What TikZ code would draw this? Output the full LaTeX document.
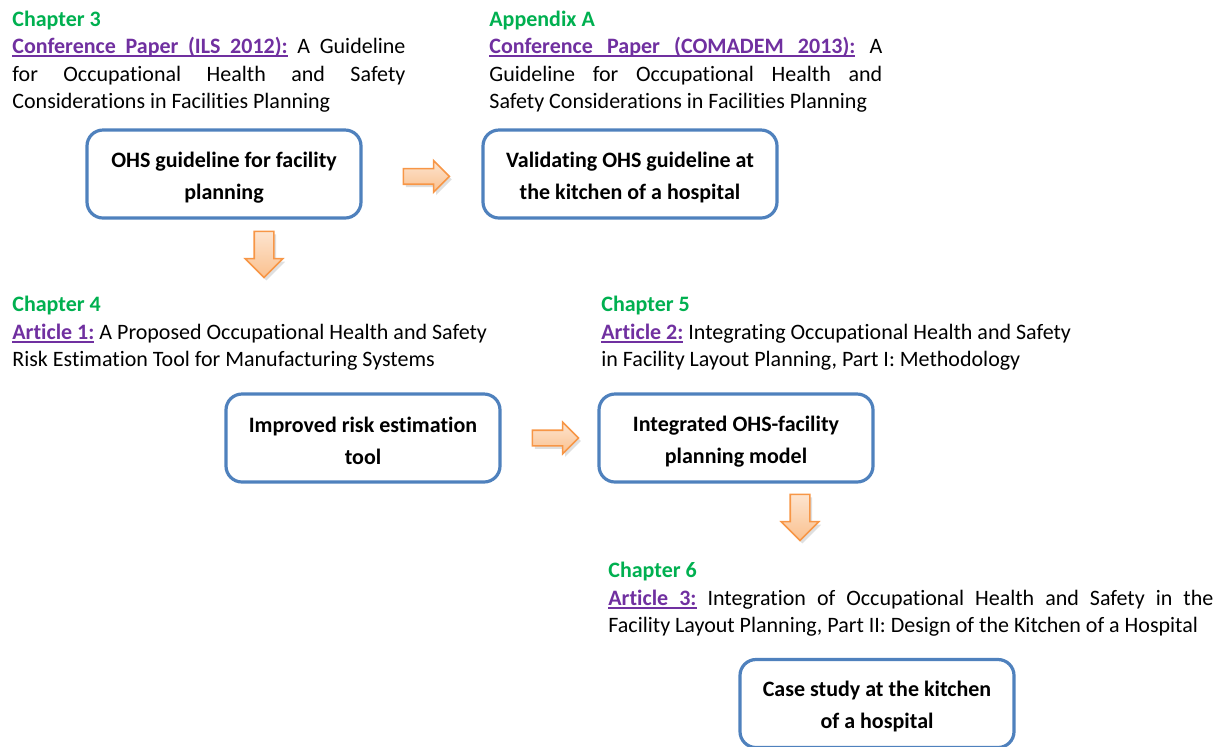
\documentclass[tikz,border=0pt]{standalone}
\usepackage{fontspec}
\setmainfont{Carlito}[Ligatures=NoCommon]
\usetikzlibrary{positioning, shapes.arrows, shadows}

\definecolor{chapgreen}{HTML}{00B050}
\definecolor{paperpurple}{HTML}{7030A0}
\definecolor{boxblue}{HTML}{4F81BD}
\definecolor{arrowline}{HTML}{F79646}
\definecolor{arrowtop}{HTML}{FDE4CF}
\definecolor{arrowbottom}{HTML}{FAC18F}

\hyphenpenalty=10000
\tolerance=10000
% underlined words, with underlined (stretchable) spaces between them
\newcommand{\ulw}[1]{\leavevmode\setbox0\hbox{#1}\rlap{\vrule height -0.9pt depth 1.7pt width \wd0}\box0}
\newcommand{\ulsp}{\leaders\hrule height -0.9pt depth 1.7pt\hskip\fontdimen2\font plus\fontdimen3\font minus\fontdimen4\font}
\def\ulsplit#1 #2\ulend{\ulw{#1}\ifx\relax#2\relax\else\ulsp\ulsplit#2\ulend\fi}
\newcommand{\chaphead}[1]{{\color{chapgreen}\bfseries #1}}
\newcommand{\paperref}[1]{{\color{paperpurple}\bfseries\ulsplit#1 \ulend}}

\begin{document}
\begin{tikzpicture}[x=0.5pt, y=-0.5pt,
  stage/.style={draw=boxblue, line width=1.6pt, rounded corners=8pt, text width=137pt,
    minimum height=44pt, inner sep=0pt, align=flush center, font=\bfseries\fontsize{11}{16}\selectfont,
    execute at begin node={\rule{0pt}{11pt}}},
  note/.style={anchor=base west, inner sep=0pt, align=justify, text width=196.5pt,
    font=\fontsize{11}{13.8}\selectfont},
  flow/.style={single arrow, draw=arrowline, line width=0.8pt, top color=arrowtop,
    bottom color=arrowbottom, single arrow head extend=4pt, minimum height=23pt,
    minimum width=15pt, inner sep=3.5pt, drop shadow={opacity=0.25, shadow xshift=1.2pt, shadow yshift=-1.5pt}},
  flowdown/.style={flow, shape border rotate=270, single arrow head extend=4.5pt, minimum width=18pt, inner sep=4.5pt}]
\useasboundingbox (0,0) rectangle (1225,746);

% texts
\node[note] (ch3) at (12,26) {\chaphead{Chapter 3}\\
  \paperref{Conference Paper (ILS 2012):} A Guideline\linebreak for Occupational Health and Safety\linebreak Considerations in Facilities Planning};
\node[note] (appA) at (489,26) {\chaphead{Appendix A}\\
  \paperref{Conference Paper (COMADEM 2013):} A\linebreak Guideline for Occupational Health and\linebreak Safety Considerations in Facilities Planning};
\node[note, align=flush left, text width=250pt] (ch4) at (12,311.5) {\chaphead{Chapter 4}\\
  \paperref{Article 1:} A Proposed Occupational Health and Safety\\
  Risk Estimation Tool for Manufacturing Systems};
\node[note, align=flush left, text width=250pt] (ch5) at (601,311.5) {\chaphead{Chapter 5}\\
  \paperref{Article 2:} Integrating Occupational Health and Safety\\
  in Facility Layout Planning, Part I: Methodology};
\node[note, text width=302.5pt] (ch6) at (608,577.5) {\chaphead{Chapter 6}\\
  \paperref{Article 3:} Integration of Occupational Health and Safety in the\linebreak Facility Layout Planning, Part II: Design of the Kitchen of a Hospital};

% boxes
\node[stage] (ohs) at (224,174) {OHS guideline for facility\\planning};
\node[stage, text width=147pt] (valid) at (630,174) {Validating OHS guideline at\\the kitchen of a hospital};
\node[stage] (risk) at (363,438) {Improved risk estimation\\tool};
\node[stage] (model) at (736,438) {Integrated OHS-facility\\planning model};
\node[stage] (case) at (877,703.5) {Case study at the kitchen\\of a hospital};

% arrows
\node[flow, right=20pt of ohs, yshift=-1.2pt, anchor=tail] (a1) {};
\node[flowdown, below=5.5pt of ohs, xshift=20pt, anchor=tail] (a2) {};
\node[flow, right=15pt of risk, anchor=tail] (a3) {};
\node[flowdown, below=5pt of model, xshift=32pt, anchor=tail] (a4) {};
\end{tikzpicture}
\end{document}
